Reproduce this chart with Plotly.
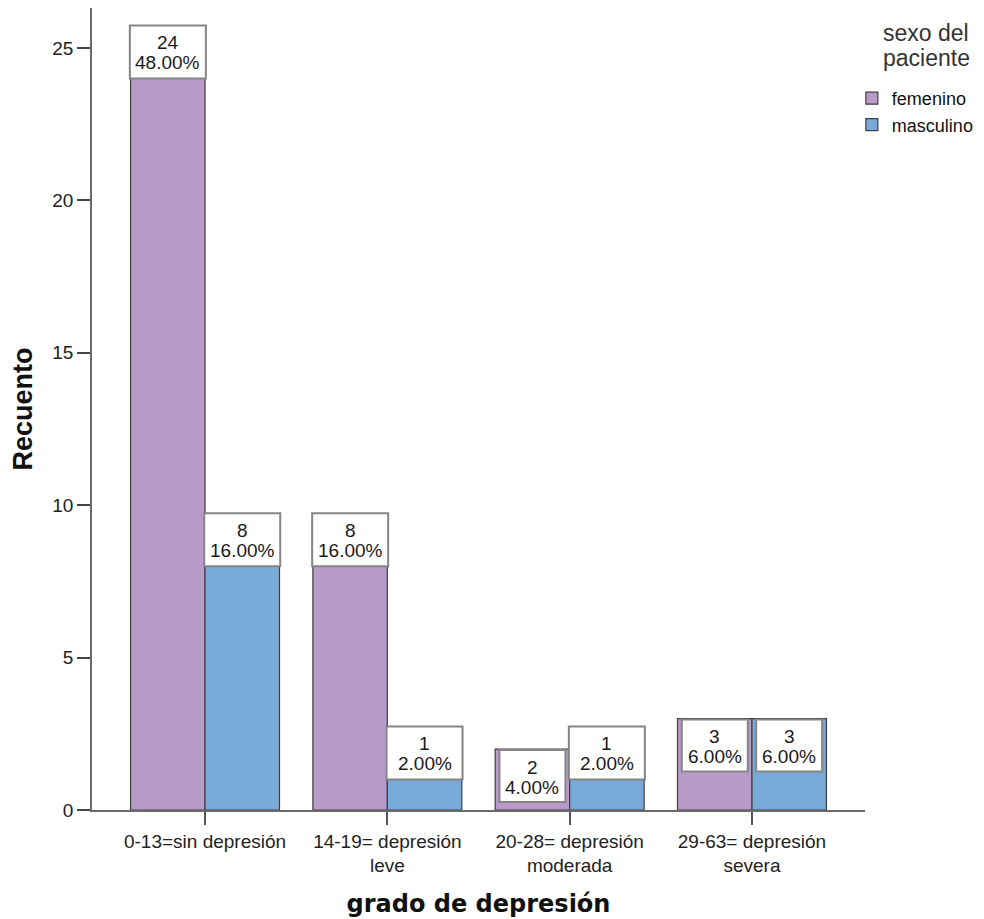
import plotly.graph_objects as go

categories = ["0-13=sin depresión", "14-19= depresión<br>leve",
              "20-28= depresión<br>moderada", "29-63= depresión<br>severa"]
femenino = [24, 8, 2, 3]
masculino = [8, 1, 1, 3]
fem_pct = ["48.00%", "16.00%", "4.00%", "6.00%"]
mas_pct = ["16.00%", "2.00%", "2.00%", "6.00%"]
series_names = ["femenino", "masculino"]
legend_title = ["sexo del", "paciente"]
colors = ["#B89BC9", "#79A9D6"]

FONT = "Liberation Sans, Arial, sans-serif"
x = list(range(len(categories)))
fig = go.Figure()
for name, vals, col in zip(series_names, [femenino, masculino], colors):
    fig.add_trace(go.Bar(
        x=x, y=vals, name=name,
        marker=dict(color=col, line=dict(color="#3f3f3f", width=1.2)),
    ))

# label boxes: hanging inside the bar top for selected bars, otherwise above
inside = {("femenino", 2), ("femenino", 3), ("masculino", 3)}
half = 0.204
for si, (name, vals, pcts) in enumerate(zip(series_names, [femenino, masculino], [fem_pct, mas_pct])):
    off = -half if si == 0 else half
    for i, (v, p) in enumerate(zip(vals, pcts)):
        ins = (name, i) in inside
        if ins:
            bx0, bx1, by0, by1 = -33, 33, -53, -1
        else:
            bx0, bx1, by0, by1 = -38, 38, 0, 53
        fig.add_shape(
            type="rect", xref="x", yref="y",
            xsizemode="pixel", xanchor=i + off, x0=bx0, x1=bx1,
            ysizemode="pixel", yanchor=v, y0=by0, y1=by1,
            fillcolor="white", line=dict(color="#858585", width=2), layer="above",
        )
        top = by1
        for txt, dy in ((str(v), 17), (p, 37)):
            fig.add_annotation(
                x=i + off, y=v, xref="x", yref="y", text=txt, showarrow=False,
                yanchor="middle", yshift=top - dy,
                font=dict(family=FONT, size=19, color="#1a1a1a"),
            )

# legend title lines
for txt, ypix in zip(legend_title, (33, 58)):
    fig.add_annotation(
        x=(926 - 92) / 773, y=1 - (ypix - 8) / 802, xref="paper", yref="paper",
        text=txt, showarrow=False, xanchor="center", yanchor="middle",
        font=dict(family=FONT, size=23, color="#333"),
    )

fig.update_layout(
    width=984, height=919,
    paper_bgcolor="white", plot_bgcolor="white",
    margin=dict(l=84, r=127, t=0, b=117),
    barmode="group", bargap=0.183, bargroupgap=0,
    font=dict(family=FONT, size=19, color="#222"),
    xaxis=dict(
        range=[-0.62, 3.62], tickvals=x, ticktext=categories,
        showline=True, linecolor="#6a6a6a", linewidth=1.5,
        ticks="outside", ticklen=13, tickcolor="#555", tickwidth=2,
        showgrid=False, zeroline=False,
        tickfont=dict(family=FONT, size=19, color="#222"),
        title=dict(text="<b>grado de depresión</b>",
                   font=dict(family="DejaVu Sans", size=24, color="#111"), standoff=20),
    ),
    yaxis=dict(
        range=[0, 26.31], tickvals=[0, 5, 10, 15, 20, 25],
        showline=True, linecolor="#6a6a6a", linewidth=1.5,
        ticks="outside", ticklen=13, tickcolor="#444", tickwidth=2,
        showgrid=False, zeroline=False,
        tickfont=dict(family=FONT, size=19, color="#222"),
        title=dict(text="<b>Recuento</b>",
                   font=dict(family=FONT, size=27, color="#111"), standoff=13),
    ),
    legend=dict(
        x=0.983, xanchor="left", y=1 - (80 - 8) / 802, yanchor="top",
        font=dict(family=FONT, size=18, color="#111"),
        itemwidth=30, tracegroupgap=0,
    ),
)
fig.write_html("out.html")
